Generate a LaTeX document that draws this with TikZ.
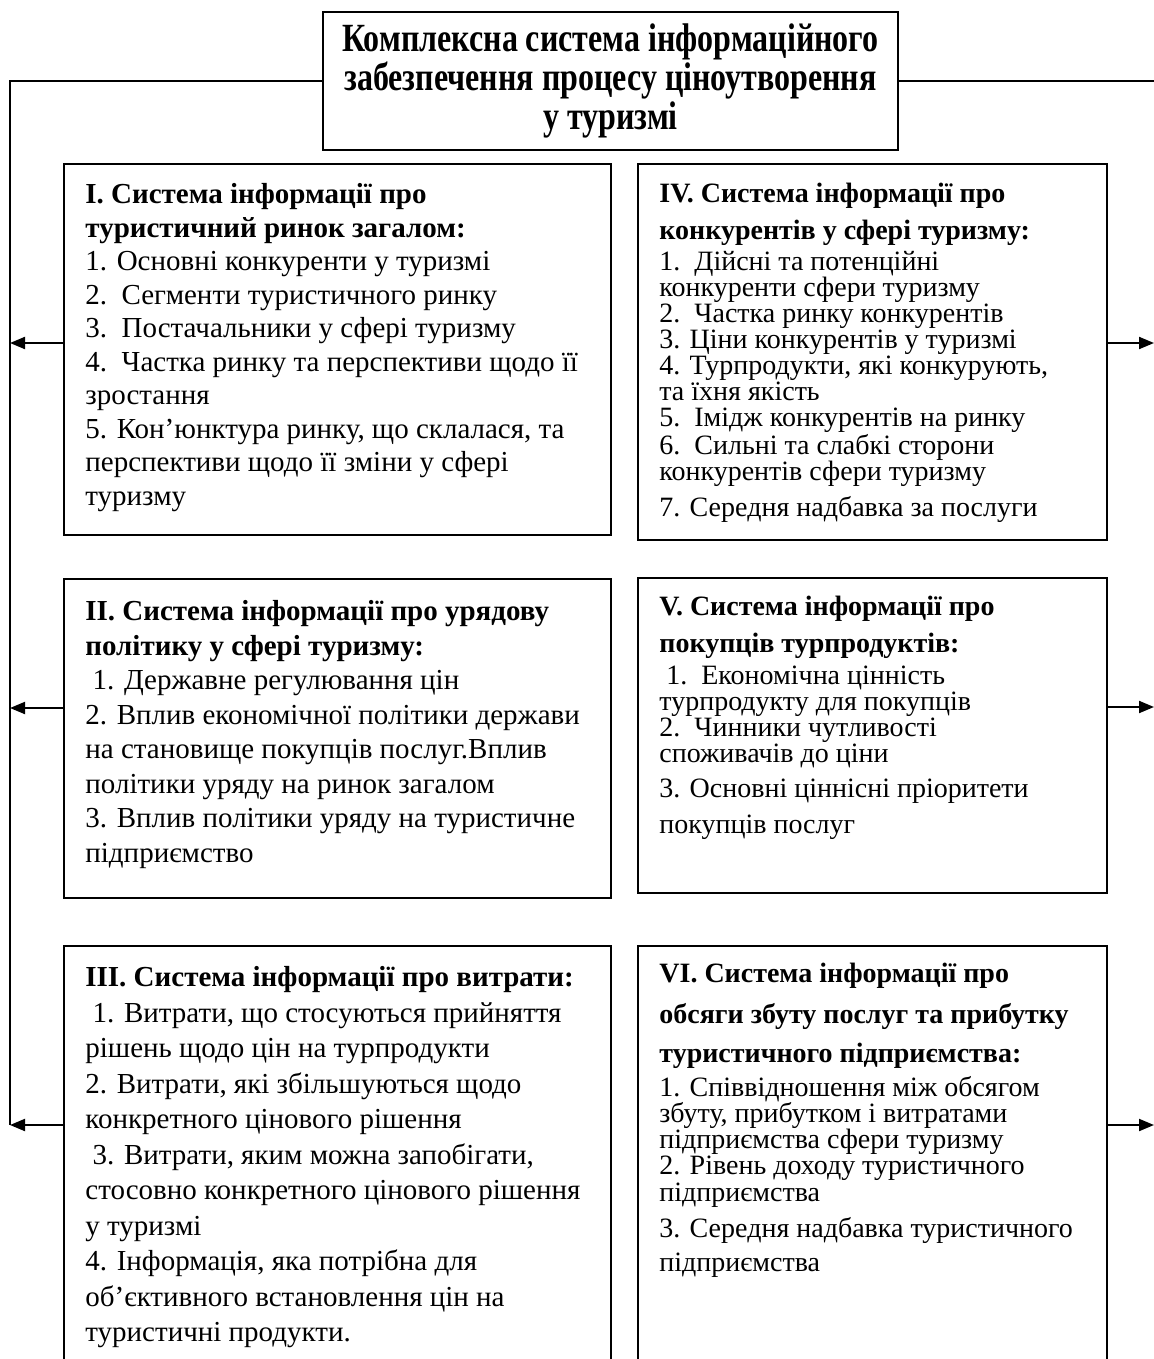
\documentclass[tikz,border=0pt]{standalone}
\usepackage{fontspec}
\setmainfont{Liberation Serif}
\newfontfamily\titlefont[FakeStretch=0.8]{Liberation Serif}
\usetikzlibrary{positioning,arrows.meta}
\tikzset{
  frame/.style={draw, line width=1pt, anchor=north west, inner sep=0pt},
  body/.style={anchor=north west, align=left, inner sep=0pt},
  link/.style={line width=1pt},
  arr/.style={link, -{Triangle[length=7.5pt,width=6pt]}}
}

\begin{document}
\begin{tikzpicture}[x=0.5pt,y=-0.5pt]
\clip (0,0) rectangle (1154,1359);
% title
\node[draw, line width=1pt, minimum width=287.5pt, minimum height=69pt, align=center,
      font=\titlefont\bfseries\fontsize{20}{19.5}\selectfont] (title) at (610.5,81)
      {Комплексна система інформаційного\\забезпечення процесу ціноутворення\\у туризмі};

% frames
\node[frame, minimum width=273.5pt, minimum height=185.5pt] (fI) at (63,163) {};
\node[frame, minimum width=234.5pt, minimum height=188pt] (fIV) at (637,163) {};
\node[frame, minimum width=273.5pt, minimum height=159.5pt] (fII) at (63,578) {};
\node[frame, minimum width=234.5pt, minimum height=157.5pt] (fV) at (637,577) {};
\node[frame, minimum width=273.5pt, minimum height=215pt] (fIII) at (63,945) {};
\node[frame, minimum width=234.5pt, minimum height=215pt] (fVI) at (637,945) {};

% texts
\node[body, font=\fontsize{14.5}{16.75}\selectfont, below right=10pt and 11pt of fI.north west] (tI)
  {\textbf{I. Система інформації про}\\
   \textbf{туристичний ринок загалом:}\\
   1. Основні конкуренти у туризмі\\
   2.\ \ Сегменти туристичного ринку\\
   3.\ \ Постачальники у сфері туризму\\
   4.\ \ Частка ринку та перспективи щодо її\\
   зростання\\
   5. Кон’юнктура ринку, що склалася, та\\
   перспективи щодо її зміни у сфері\\
   туризму};
\node[body, font=\fontsize{14}{13}\selectfont, below right=10pt and 11pt of fIV.north west] (tIV)
  {\textbf{IV. Система інформації про}\\[5.5pt]
   \textbf{конкурентів у сфері туризму:}\\[2.5pt]
   1.\ \ Дійсні та потенційні\\
   конкуренти сфери туризму\\
   2.\ \ Частка ринку конкурентів\\
   3. Ціни конкурентів у туризмі\\
   4. Турпродукти, які конкурують,\\
   та їхня якість\\
   5.\ \ Імідж конкурентів на ринку\\
   6.\ \ Сильні та слабкі сторони\\
   конкурентів сфери туризму\\[3.5pt]
   7. Середня надбавка за послуги};
\node[body, font=\fontsize{14.5}{17.25}\selectfont, below right=11pt and 11pt of fII.north west] (tII)
  {\textbf{II. Система інформації про урядову}\\
   \textbf{політику у сфері туризму:}\\
   \ 1. Державне регулювання цін\\
   2. Вплив економічної політики держави\\
   на становище покупців послуг.Вплив\\
   політики уряду на ринок загалом\\
   3. Вплив політики уряду на туристичне\\
   підприємство};
\node[body, font=\fontsize{14}{13}\selectfont, below right=9.5pt and 11pt of fV.north west] (tV)
  {\textbf{V. Система інформації про}\\[5.5pt]
   \textbf{покупців турпродуктів:}\\[3pt]
   \ 1.\ \ Економічна цінність\\
   турпродукту для покупців\\
   2.\ \ Чинники чутливості\\
   споживачів до ціни\\[4.5pt]
   3. Основні ціннісні пріоритети\\[5pt]
   покупців послуг};
\node[body, font=\fontsize{14.5}{17.75}\selectfont, below right=10.5pt and 11pt of fIII.north west] (tIII)
  {\textbf{III. Система інформації про витрати:}\\
   \ 1. Витрати, що стосуються прийняття\\
   рішень щодо цін на турпродукти\\
   2. Витрати, які збільшуються щодо\\
   конкретного цінового рішення\\
   \ 3. Витрати, яким можна запобігати,\\
   стосовно конкретного цінового рішення\\
   у туризмі\\
   4. Інформація, яка потрібна для\\
   об’єктивного встановлення цін на\\
   туристичні продукти.};
\node[body, font=\fontsize{14}{13}\selectfont, below right=9pt and 11pt of fVI.north west] (tVI)
  {\textbf{VI. Система інформації про}\\[6.5pt]
   \textbf{обсяги збуту послуг та прибутку}\\[6.5pt]
   \textbf{туристичного підприємства:}\\[3pt]
   1. Співвідношення між обсягом\\
   збуту, прибутком і витратами\\
   підприємства сфери туризму\\
   2. Рівень доходу туристичного\\[0.5pt]
   підприємства\\[4pt]
   3. Середня надбавка туристичного\\[4pt]
   підприємства};

% trunk and arrows
\coordinate (t1) at (10,343);
\coordinate (t2) at (10,708);
\coordinate (t3) at (10,1125);
\coordinate (r1) at (1154,343);
\coordinate (r2) at (1154,707);
\coordinate (r3) at (1154,1125);
\draw[link] (title.west) -| (t3);
\draw[link] (title.east) -- (title.east -| r1);
\foreach \b/\n in {fI/1, fII/2, fIII/3}
  \draw[arr] (\b.west |- t\n) -- (t\n);
\foreach \b/\n in {fIV/1, fV/2, fVI/3}
  \draw[arr] (\b.east |- r\n) -- (r\n);
\end{tikzpicture}
\end{document}
